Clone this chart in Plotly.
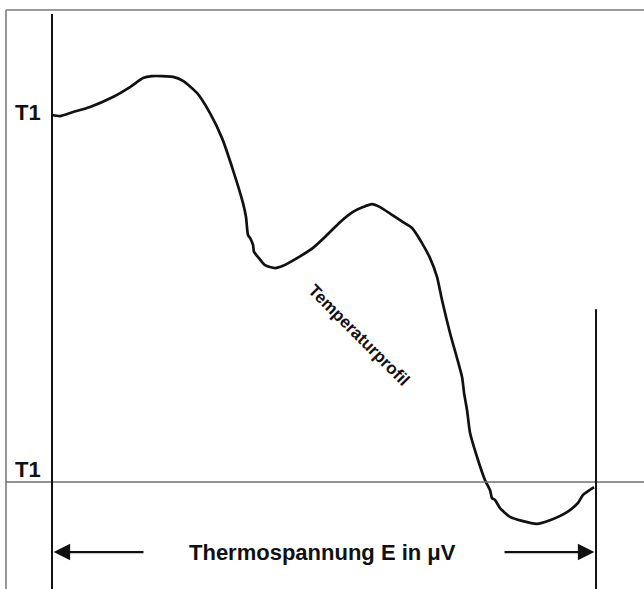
import plotly.graph_objects as go

# Temperature profile (x: Thermospannung, 0..100 between the two verticals; y: temperature, 0 = lower T1, 100 = upper T1)
profile_x = [0, 1.47, 3.86, 6.99, 11.21, 14.34, 16.73, 18.38, 22.24, 24.08, 26.65, 29.04, 31.25,
             33.27, 35.11, 35.66, 36.03, 36.40, 36.95, 37.13, 37.87, 39.15, 40.99, 42.46, 45.04,
             47.98, 50.55, 52.94, 55.33, 57.17, 58.82, 60.29, 62.50, 64.52, 66.18, 68.01, 69.49,
             70.77, 71.69, 73.16, 75.37, 75.74, 76.29, 76.84, 78.13, 79.60, 80.51, 80.88, 81.43,
             82.35, 84.19, 86.40, 89.15, 91.54, 94.67, 96.69, 97.61, 98.53, 99.63]
profile_y = [100, 99.7, 100.8, 102.2, 104.9, 107.6, 110.1, 110.6, 110.4, 109.3, 106.0, 100.5, 93.7,
             85.0, 76.0, 72.2, 67.3, 66.5, 64.6, 62.7, 61.3, 59.1, 58.3, 58.9, 61.0,
             63.8, 67.3, 70.8, 73.6, 74.9, 75.7, 74.9, 72.8, 70.8, 69.2, 65.1, 61.0,
             55.9, 49.6, 40.6, 28.6, 24.3, 19.6, 13.4, 6.8, 0.5, -2.2, -4.4, -4.9,
             -7.1, -9.5, -10.6, -11.4, -10.4, -8.2, -5.7, -3.5, -2.5, -1.4]

t_levels = [100, 0]
t_labels = ["T1", "T1"]
x_label = "Thermospannung E in \u03bcV"
curve_label = "Temperaturprofil"

X_RANGE = [-9.56, 108.82]
Y_RANGE = [-29.16, 131.34]

FONT = "Liberation Sans, Arial, sans-serif"

fig = go.Figure()
fig.add_trace(go.Scatter(
    x=profile_x, y=profile_y, mode="lines",
    line=dict(color="#111111", width=2.7, shape="spline", smoothing=0.6),
    hoverinfo="skip", showlegend=False,
))

shapes = []
# outer gray frame (top and left)
shapes.append(dict(type="line", xref="paper", yref="paper", x0=0.0093, x1=1.0, y0=0.983, y1=0.983,
                   line=dict(color="#7a7a7a", width=1.6)))
shapes.append(dict(type="line", xref="paper", yref="paper", x0=0.0093, x1=0.0093, y0=0.983, y1=0,
                   line=dict(color="#7a7a7a", width=1.6)))
# lower T1 reference line
shapes.append(dict(type="line", xref="paper", yref="y", x0=0.0093, x1=1.0, y0=t_levels[1], y1=t_levels[1],
                   line=dict(color="#6e6e6e", width=1.5)))
# left vertical axis
shapes.append(dict(type="line", xref="x", yref="y", x0=0, x1=0, y0=127.5, y1=Y_RANGE[0],
                   line=dict(color="#111111", width=2)))
# right vertical
shapes.append(dict(type="line", xref="x", yref="y", x0=100, x1=100, y0=47.1, y1=Y_RANGE[0],
                   line=dict(color="#111111", width=2)))
fig.update_layout(shapes=shapes)

ann = []
for lv, lb in zip(t_levels, t_labels):
    ann.append(dict(x=-4.45, y=lv + (3.3 if lv == 0 else 0.8), xref="x", yref="y", text="<b>%s</b>" % lb,
                    showarrow=False, font=dict(family=FONT, size=22, color="#111111"),
                    xanchor="center", yanchor="middle"))
ann.append(dict(x=49.8, y=-19.1, xref="x", yref="y", text="<b>%s</b>" % x_label, showarrow=False,
                font=dict(family=FONT, size=22, color="#111111"), xanchor="center", yanchor="middle"))
ann.append(dict(x=56.4, y=39.8, xref="x", yref="y", text="<b>%s</b>" % curve_label, showarrow=False,
                textangle=45, font=dict(family=FONT, size=17, color="#111111"),
                xanchor="center", yanchor="middle"))
# arrows
ann.append(dict(x=0.3, y=-19.1, ax=17.1, ay=-19.1, xref="x", yref="y", axref="x", ayref="y",
                text="", showarrow=True, arrowhead=2, arrowsize=1.5, arrowwidth=2.2, arrowcolor="#111111"))
ann.append(dict(x=99.7, y=-19.1, ax=82.9, ay=-19.1, xref="x", yref="y", axref="x", ayref="y",
                text="", showarrow=True, arrowhead=2, arrowsize=1.5, arrowwidth=2.2, arrowcolor="#111111"))
fig.update_layout(annotations=ann)

fig.update_layout(
    width=644, height=589,
    margin=dict(l=0, r=0, t=0, b=0),
    paper_bgcolor="white", plot_bgcolor="white",
    xaxis=dict(range=X_RANGE, visible=False, showgrid=False, zeroline=False, fixedrange=True),
    yaxis=dict(range=Y_RANGE, visible=False, showgrid=False, zeroline=False, fixedrange=True),
    hovermode=False,
)

fig.write_html("out.html", config={"displayModeBar": False},
               post_script="document.body.style.margin='0';document.body.style.overflow='hidden';")
